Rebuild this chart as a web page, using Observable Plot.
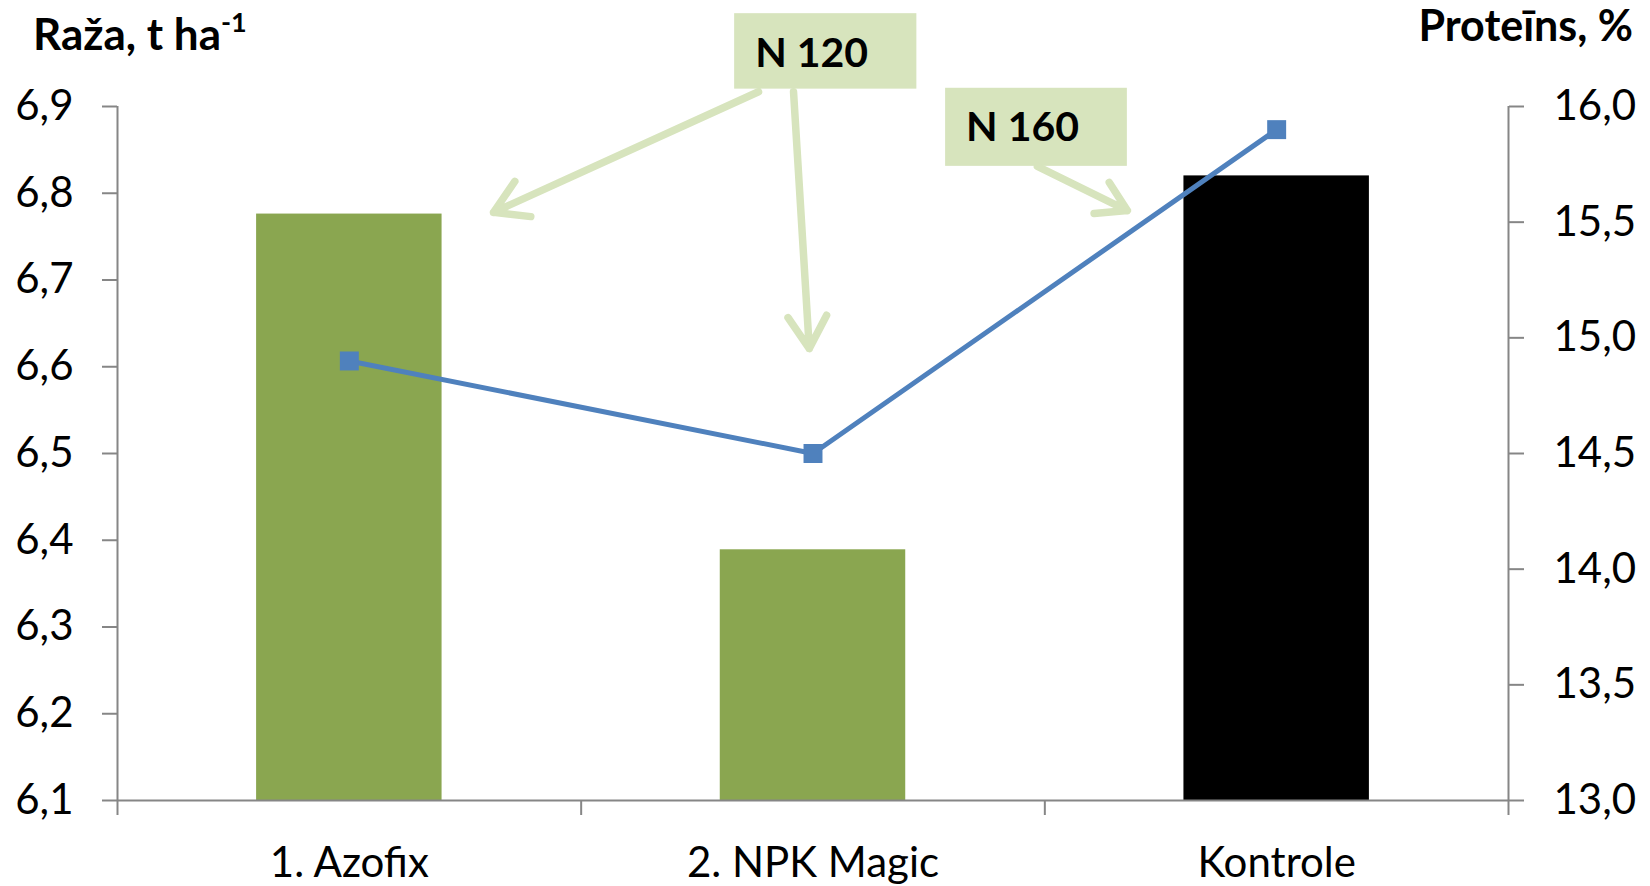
<!DOCTYPE html>
<html>
<head>
<meta charset="utf-8">
<script src="https://cdn.jsdelivr.net/npm/d3@7"></script>
<script src="https://cdn.jsdelivr.net/npm/@observablehq/plot@0.6"></script>
<style>
  html, body { margin: 0; padding: 0; background: #fff; }
  #chart { width: 1650px; height: 886px; }
</style>
</head>
<body>
<div id="chart"></div>
<script>
// ---- data ----
const categories = ["1. Azofix", "2. NPK Magic", "Kontrole"];
const yieldValues = [6.776, 6.389, 6.82];          // Raža, t ha-1 (left axis)
const proteinValues = [14.9, 14.5, 15.9];           // Proteīns, % (right axis)
const barColors = ["#8aa650", "#8aa650", "#000000"];
const yieldTicks = [6.1, 6.2, 6.3, 6.4, 6.5, 6.6, 6.7, 6.8, 6.9];
const proteinTicks = [13.0, 13.5, 14.0, 14.5, 15.0, 15.5, 16.0];

// annotations (x in category-index units, y in left-axis units)
const noteLabels = ["N 120", "N 160"];
const noteX = [0.997, 1.452];
const noteY = [6.961, 6.875];
const noteBoxX1 = [0.831, 1.286];
const noteBoxX2 = [1.224, 1.678];
const noteBoxY1 = [6.920, 6.831];
const noteBoxY2 = [7.007, 6.921];
const arrowX1 = [0.8825, 0.958, 1.484];
const arrowY1 = [6.917, 6.917, 6.831];
const arrowX2 = [0.311, 0.992, 1.678];
const arrowY2 = [6.778, 6.621, 6.780];

// ---- scales mapping ----
const yMin = 6.1, yMax = 6.9, pMin = 13.0, pMax = 16.0;
const toLeft = p => yMin + (p - pMin) * (yMax - yMin) / (pMax - pMin);
const toProt = y => pMin + (y - yMin) * (pMax - pMin) / (yMax - yMin);
const fmt = v => v.toFixed(1).replace(".", ",");

const bars = categories.map((c, i) => ({c, i, v: yieldValues[i], color: barColors[i]}));
const prot = categories.map((c, i) => ({c, i, p: proteinValues[i], yl: toLeft(proteinValues[i])}));
const notes = noteLabels.map((t, i) => ({t, x: noteX[i], y: noteY[i], x1: noteBoxX1[i], x2: noteBoxX2[i], y1: noteBoxY1[i], y2: noteBoxY2[i]}));
const arrows = arrowX1.map((x, i) => ({x1: x, y1: arrowY1[i], x2: arrowX2[i], y2: arrowY2[i]}));

const axisGray = "#868686";
const halfBar = 0.2;

const svg = Plot.plot({
  width: 1650,
  height: 886,
  marginLeft: 117,
  marginRight: 142,
  marginTop: 106,
  marginBottom: 86,
  style: {fontFamily: "Lato, 'Open Sans', sans-serif", color: "#000", background: "#fff"},
  x: {type: "linear", domain: [-0.5, categories.length - 0.5], axis: null},
  y: {domain: [yMin, yMax], axis: null},
  marks: [
    Plot.rectY(bars, {x1: d => d.i - halfBar, x2: d => d.i + halfBar, y1: yMin, y2: "v", fill: "color"}),
    // axes
    Plot.ruleY([yMin], {stroke: axisGray, strokeWidth: 2}),
    Plot.ruleX([-0.5, categories.length - 0.5], {stroke: axisGray, strokeWidth: 2}),
    Plot.axisY(yieldTicks, {anchor: "left", tickSize: 15, tickPadding: 29, tickFormat: fmt, fontSize: 42, stroke: axisGray, strokeWidth: 2}),
    Plot.axisY(proteinTicks.map(toLeft), {anchor: "right", tickSize: 15, tickPadding: 30, tickFormat: d => fmt(toProt(d)), fontSize: 42, stroke: axisGray, strokeWidth: 2}),
    Plot.axisX(d3.range(categories.length + 1).map(i => i - 0.5), {anchor: "bottom", tickSize: 15, tickFormat: () => "", stroke: axisGray, strokeWidth: 2}),
    Plot.axisX(d3.range(categories.length), {anchor: "bottom", tickSize: 0, tickPadding: 47, tickFormat: i => categories[i], fontSize: 42}),
    // annotations
    Plot.rect(notes, {x1: "x1", x2: "x2", y1: "y1", y2: "y2", fill: "#d7e4bd"}),
    Plot.text(notes, {x: "x", y: "y", text: "t", fontSize: 41, fontWeight: "bold", fill: "#000"}),
    Plot.arrow(arrows, {x1: "x1", y1: "y1", x2: "x2", y2: "y2", stroke: "#d7e4bd", strokeWidth: 7.5, headLength: 7.5, headAngle: 62, strokeLinecap: "round", strokeLinejoin: "round"}),
    // protein line
    Plot.line(prot, {x: "i", y: "yl", stroke: "#4f81bd", strokeWidth: 5}),
    Plot.dot(prot, {x: "i", y: "yl", symbol: "square", r: 10.7, fill: "#4f81bd", stroke: "none"})
  ]
});

const g = d3.select(svg);
const lt = g.append("text")
  .attr("x", 33).attr("y", 50)
  .attr("text-anchor", "start")
  .attr("font-size", 44).attr("font-weight", "bold").attr("fill", "#000")
  .text("Raža, t ha");
lt.append("tspan").attr("font-size", 27).attr("dy", -18).text("-1");
g.append("text")
  .attr("x", 1633).attr("y", 41)
  .attr("text-anchor", "end")
  .attr("font-size", 43).attr("font-weight", "bold").attr("fill", "#000")
  .text("Proteīns, %");

document.getElementById("chart").appendChild(svg);
</script>
</body>
</html>
